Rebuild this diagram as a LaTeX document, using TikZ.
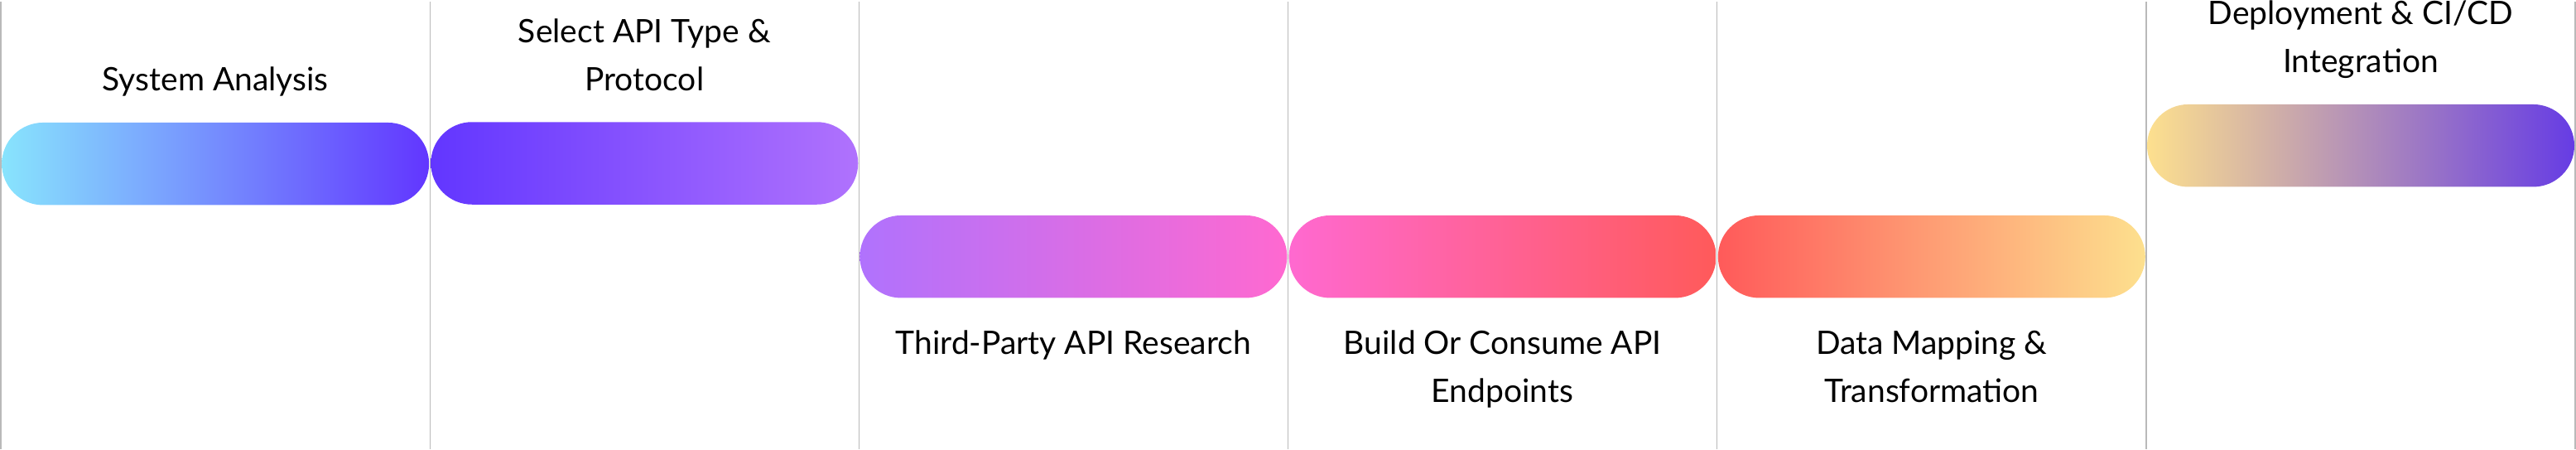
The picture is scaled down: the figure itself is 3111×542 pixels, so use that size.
\documentclass[tikz,border=0pt]{standalone}
\usepackage{fontspec}
\setmainfont{Lato}
\usetikzlibrary{shapes}

\definecolor{rulegray}{RGB}{185,185,185}
\definecolor{cyanA}{RGB}{136,228,253}
\definecolor{violetA}{RGB}{129,102,253}
\definecolor{violetB}{RGB}{98,54,255}
\definecolor{purpleA}{RGB}{154,72,255}
\definecolor{purpleB}{RGB}{176,114,253}
\definecolor{magentaA}{RGB}{217,58,227}
\definecolor{pinkA}{RGB}{255,105,208}
\definecolor{roseA}{RGB}{255,122,144}
\definecolor{redA}{RGB}{255,90,90}
\definecolor{peachA}{RGB}{255,156,116}
\definecolor{yellowA}{RGB}{253,224,142}
\definecolor{mauveA}{RGB}{192,160,184}
\definecolor{indigoA}{RGB}{102,60,228}

\begin{document}
\begin{tikzpicture}[x=1pt,y=-1pt]
\tikzstyle{pill}=[
	rounded rectangle,
	minimum width=516pt,
	minimum height=99.5pt,
	inner sep=0pt ]
\tikzstyle{caption}=[
	anchor=base,
	align=center,
	inner sep=0pt,
	font=\fontsize{39}{58}\selectfont ]
\useasboundingbox (0,0) rectangle (3111,542);
\foreach \k in {0,...,6}
	\draw[rulegray, line width=1.3pt] (1+518.17*\k,2) -- (1+518.17*\k,542);
\node[pill, left color=cyanA, middle color=violetA, right color=violetB] (sys) at (260.2,197.7) {};
\node[pill, left color=violetB, middle color=purpleA, right color=purpleB] (sel) at (778.3,197) {};
\node[pill, left color=purpleB, middle color=magentaA, right color=pinkA] (res) at (1296.4,309.7) {};
\node[pill, left color=pinkA, middle color=roseA, right color=redA] (bld) at (1814.6,309.7) {};
\node[pill, left color=redA, middle color=peachA, right color=yellowA] (map) at (2332.8,309.7) {};
\node[pill, left color=yellowA, middle color=mauveA, right color=indigoA] (dep) at (2851,175.7) {};
\node[caption] (sysT) at ([yshift=38pt]sys.north) {System Analysis};
\node[caption] (selT) at ([yshift=38pt]sel.north) {Select API Type \&\\Protocol};
\node[caption] (resT) at ([yshift=-68pt]res.south) {Third-Party API Research};
\node[caption] (bldT) at ([yshift=-126pt]bld.south) {Build Or Consume API\\Endpoints};
\node[caption] (mapT) at ([yshift=-126pt]map.south) {Data Mapping \&\\Transformation};
\node[caption] (depT) at ([yshift=38pt]dep.north) {Deployment \& CI/CD\\Integration};
\end{tikzpicture}
\end{document}
